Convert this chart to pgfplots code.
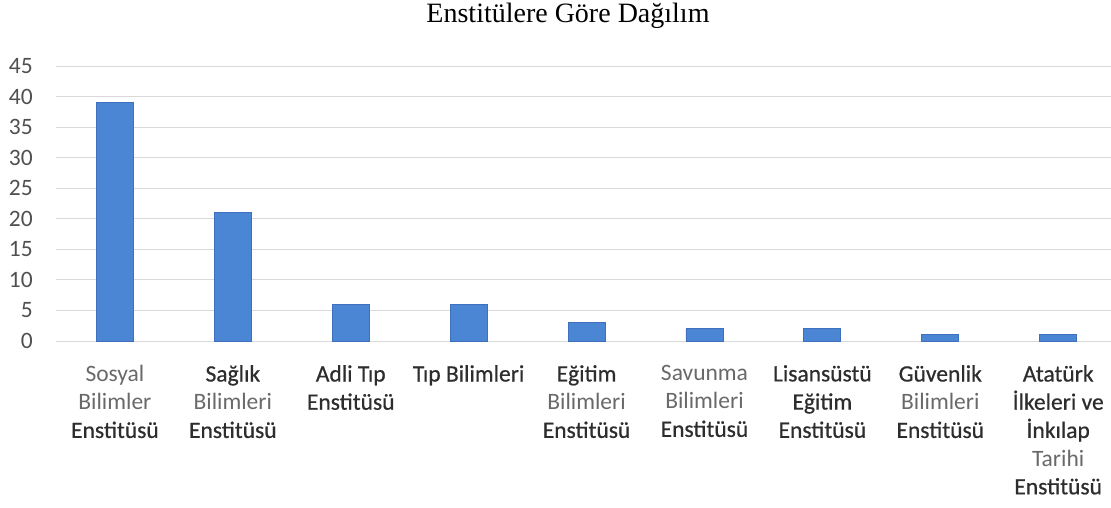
\documentclass[border=0pt]{standalone}
\usepackage{fontspec}
\setmainfont{Liberation Serif}
\newfontfamily\calibri{Carlito}
\newfontfamily\calibrisemi[FakeBold=0.6]{Carlito}
\usepackage{pgfplots}
\pgfplotsset{compat=1.18}
\definecolor{barblue}{RGB}{74,134,212}
\definecolor{baredge}{RGB}{62,112,188}
\definecolor{gridgray}{RGB}{217,217,217}
\definecolor{ticklab}{RGB}{80,80,80}
\definecolor{lightlab}{RGB}{105,105,105}
\definecolor{darklab}{RGB}{45,45,45}
\newcommand{\lgt}[1]{{\color{lightlab}#1}}
\newcommand{\dk}[1]{{\calibrisemi\color{darklab}#1}}
\begin{document}
\begin{tikzpicture}
\path[use as bounding box] (-56pt,-166pt) rectangle (1055pt,341pt);
\begin{axis}[
  at={(0,0)}, anchor=south west,
  scale only axis,
  width=1055pt, height=275pt,
  xmin=-0.5, xmax=8.448,
  ymin=0, ymax=45,
  ytick={0,5,...,45},
  xtick={0,...,8},
  xticklabels={
    {\lgt{Sosyal}\\\lgt{Bilimler}\\\dk{Enstitüsü}},
    {\dk{Sağlık}\\\lgt{Bilimleri}\\\dk{Enstitüsü}},
    {\dk{Adli Tıp}\\\dk{Enstitüsü}},
    {\dk{Tıp Bilimleri}},
    {\dk{Eğitim}\\\lgt{Bilimleri}\\\dk{Enstitüsü}},
    {\lgt{Savunma}\\\lgt{Bilimleri}\\\dk{Enstitüsü}},
    {\dk{Lisansüstü}\\\dk{Eğitim}\\\dk{Enstitüsü}},
    {\dk{Güvenlik}\\\lgt{Bilimleri}\\\dk{Enstitüsü}},
    {\dk{Atatürk}\\\dk{İlkeleri ve}\\\dk{İnkılap}\\\lgt{Tarihi}\\\dk{Enstitüsü}}
  },
  xticklabel style={anchor=north, inner sep=0pt, yshift=-24pt, align=center,
    font=\calibri\fontsize{23.5}{28.2}\selectfont},
  yticklabel style={anchor=east, inner sep=0pt, xshift=-23pt,
    font=\calibri\fontsize{23.5}{28}\selectfont, text=ticklab},
  /pgf/number format/assume math mode=true,
  major tick length=0pt,
  axis line style={draw=none},
  ymajorgrids,
  grid style={gridgray, line width=1pt},
  ybar, bar width=37pt,
  clip=false,
]
\addplot[fill=barblue, draw=baredge, line width=0.8pt] coordinates {
  (0,39) (1,21) (2,6) (3,6) (4,3) (5,2) (6,2) (7,1) (8,1)
};
\end{axis}
\node[anchor=base, font=\fontsize{28}{32}\selectfont] at (512pt,318pt) {Enstitülere Göre Dağılım};
\end{tikzpicture}
\end{document}
